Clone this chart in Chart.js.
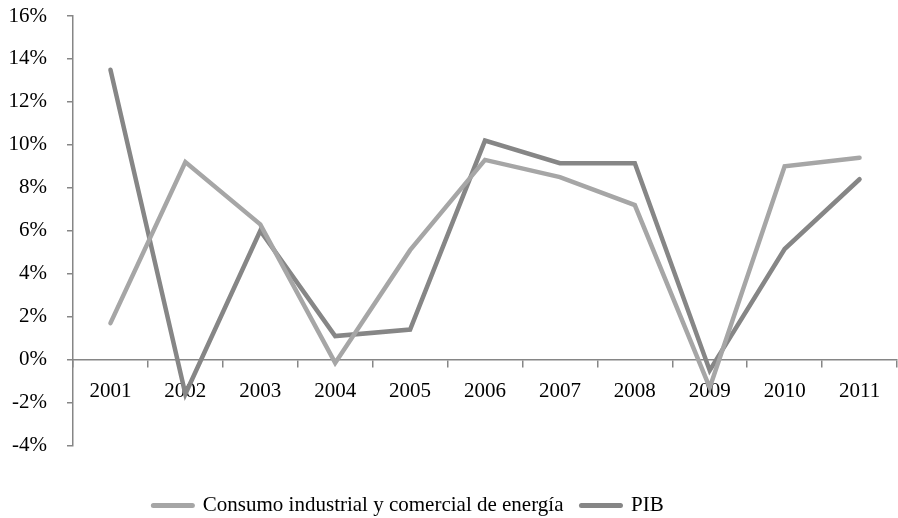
<!DOCTYPE html>
<html>
<head>
<meta charset="utf-8">
<script src="https://cdn.jsdelivr.net/npm/chart.js@4.4.1/dist/chart.umd.min.js"></script>
<style>
  html, body { margin: 0; padding: 0; background: #fff; }
  #wrap { width: 898px; height: 518px; position: relative; }
</style>
</head>
<body>
<div id="wrap"><canvas id="c" width="898" height="518"></canvas></div>
<script>
const years = ['2001','2002','2003','2004','2005','2006','2007','2008','2009','2010','2011'];
const consumo = [1.7, 9.2, 6.3, -0.15, 5.1, 9.3, 8.5, 7.2, -1.3, 9.0, 9.4];
const pib = [13.5, -1.6, 6.0, 1.1, 1.4, 10.2, 9.15, 9.15, -0.5, 5.15, 8.4];
const seriesNames = ['Consumo industrial y comercial de energía', 'PIB'];
const seriesColors = ['#A6A6A6', '#868686'];

const FONT = "'Liberation Serif', 'Times New Roman', serif";
const axisColor = '#868686';

// shift the legend block left (reference legend is centred left of the canvas middle)
const legendShift = {
  id: 'legendShift',
  afterLayout(chart) {
    if (chart.legend) { chart.legend.right -= 80; }
  }
};

new Chart(document.getElementById('c'), {
  type: 'line',
  data: {
    labels: years,
    datasets: [
      { label: seriesNames[0], data: consumo, borderColor: seriesColors[0], backgroundColor: seriesColors[0],
        borderWidth: 4.5, pointRadius: 0, tension: 0, borderCapStyle: 'round', borderJoinStyle: 'miter' },
      { label: seriesNames[1], data: pib, borderColor: seriesColors[1], backgroundColor: seriesColors[1],
        borderWidth: 4.5, pointRadius: 0, tension: 0, borderCapStyle: 'round', borderJoinStyle: 'miter' }
    ]
  },
  plugins: [legendShift],
  options: {
    responsive: false,
    animation: false,
    devicePixelRatio: 1,
    layout: { padding: { left: 0, right: 1, top: 16, bottom: -8 } },
    plugins: {
      tooltip: { enabled: false },
      legend: {
        position: 'bottom',
        title: { display: true, text: ' ', font: { size: 2 }, padding: { top: 29, bottom: 0 } },
        labels: {
          font: { family: FONT, size: 21 },
          color: '#000',
          usePointStyle: true,
          pointStyleWidth: 39,
          boxHeight: 5,
          padding: 18,
          generateLabels: (chart) => chart.data.datasets.map((ds, i) => ({
            text: ds.label, fillStyle: ds.borderColor, strokeStyle: ds.borderColor,
            lineWidth: 5, lineCap: 'round', pointStyle: 'line',
            hidden: false, datasetIndex: i, fontColor: '#000'
          }))
        }
      }
    },
    scales: {
      x: {
        position: { y: 0 },
        offset: true,
        grid: { display: true, drawOnChartArea: false, drawTicks: true, tickLength: 7, color: axisColor, offset: true, lineWidth: 1.5 },
        border: { display: true, color: axisColor, width: 1.5 },
        ticks: { font: { family: FONT, size: 21 }, color: '#000', padding: 12, maxRotation: 0, autoSkip: false }
      },
      y: {
        min: -4, max: 16,
        afterFit: (s) => { s.width = 73; s.paddingTop = 0; },
        grid: { display: true, drawOnChartArea: false, drawTicks: true, tickLength: 6, color: axisColor, lineWidth: 1.5 },
        border: { display: true, color: axisColor, width: 1.5 },
        ticks: { stepSize: 2, font: { family: FONT, size: 21 }, color: '#000', padding: 20,
                 callback: v => v + '%' }
      }
    }
  }
});
</script>
</body>
</html>
